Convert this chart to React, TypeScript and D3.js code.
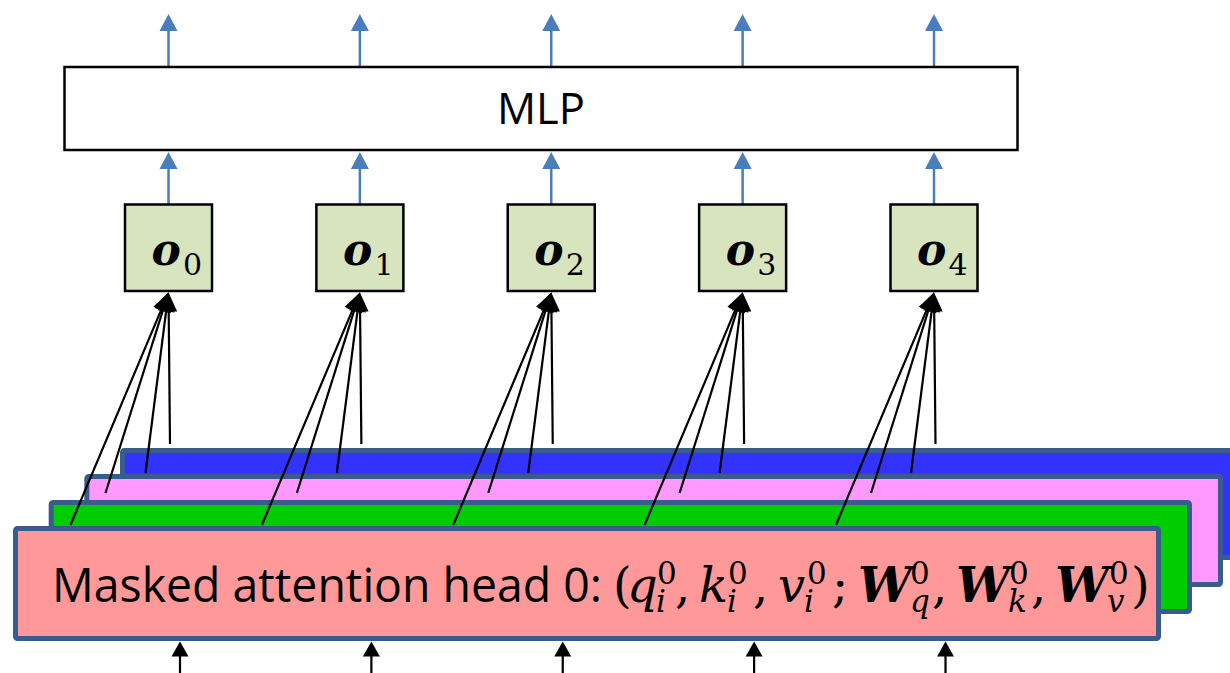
import React from "react";
import * as d3 from "d3";

// ---- data ----
const outputs = ["0", "1", "2", "3", "4"]; // subscripts of o_i
const heads = ["head 0", "head 1", "head 2", "head 3"]; // stacked attention heads (front to back)
const headFills = ["#ff9999", "#00cc00", "#ff99ff", "#3333ff"];
const mlpLabel = "MLP";
const headLabel = "Masked attention head 0:";
// math part of the label: [text, role, style]
const mathTokens: [string, string, string][] = [
  ["(", "main", "normal"],
  ["q", "main", "italic"],
  ["0", "sup", "normal"],
  ["i", "sub", "italic"],
  [",", "main", "normal"],
  ["k", "main", "italic"],
  ["0", "sup", "normal"],
  ["i", "sub", "italic"],
  [",", "main", "normal"],
  ["v", "main", "italic"],
  ["0", "sup", "normal"],
  ["i", "sub", "italic"],
  [";", "main", "normal"],
  ["W", "main", "bolditalic"],
  ["0", "sup", "normal"],
  ["q", "sub", "italic"],
  [",", "main", "normal"],
  ["W", "main", "bolditalic"],
  ["0", "sup", "normal"],
  ["k", "sub", "italic"],
  [",", "main", "normal"],
  ["W", "main", "bolditalic"],
  ["0", "sup", "normal"],
  ["v", "sub", "italic"],
  [")", "main", "normal"],
];

// ---- layout ----
const W = 1230;
const H = 673;
const mathX = [613, 627, 657, 656, 675, 699, 728, 727, 753, 778, 807, 804, 832, 858, 910, 910, 932, 956, 1009, 1008, 1031, 1055, 1109, 1107, 1131];

const x = d3.scalePoint<string>().domain(outputs).range([168.5, 934]).padding(0);
const layerIdx = d3.scaleLinear().domain([0, 3]);
const layerLeft = layerIdx.copy().range([13, 120]);
const layerTop = layerIdx.copy().range([526, 448]);
const layerRight = layerIdx.copy().range([1161, 1254]);
const layerBottom = layerIdx.copy().range([641, 560]);

// where each head's line leaves the stack (relative to output centre)
const lineDx = [-98, -63, -23, 1.5];
const lineY = [525, 493, 473, 444];

function arrow(x1: number, y1: number, tx: number, ty: number, len: number, w: number) {
  const dx = tx - x1, dy = ty - y1;
  const d = Math.hypot(dx, dy);
  const ux = dx / d, uy = dy / d;
  const bx = tx - ux * len, by = ty - uy * len;
  const px = -uy * (w / 2), py = ux * (w / 2);
  return {
    line: [x1, y1, bx + ux * 1, by + uy * 1],
    head: `${tx},${ty} ${bx + px},${by + py} ${bx - px},${by - py}`,
  };
}

const BLUE = "#4a7ebb";
const BORDER = "#385d8a";
const SERIF = "'DejaVu Serif', 'Liberation Serif', serif";
const SANS = "'Open Sans', 'Noto Sans', sans-serif";

export default function App() {
  const outs = outputs.map((o) => ({ o, cx: x(o)! }));
  return (
    <svg width={W} height={H} style={{ position: "absolute", left: 0, top: 0, background: "#fff" }}>
      {/* blue arrows above MLP and between o and MLP */}
      {outs.map(({ o, cx }) => {
        const a1 = arrow(cx, 66, cx, 14, 17, 18);
        const a2 = arrow(cx, 204, cx, 152, 17, 18);
        return (
          <g key={"b" + o}>
            {[a1, a2].map((a, k) => (
              <g key={k}>
                <line x1={a.line[0]} y1={a.line[1]} x2={a.line[2]} y2={a.line[3]} stroke={BLUE} strokeWidth={2.5} />
                <polygon points={a.head} fill={BLUE} />
              </g>
            ))}
          </g>
        );
      })}

      {/* MLP box */}
      <rect x={64.5} y={67} width={953} height={83} fill="#fff" stroke="#000" strokeWidth={2.5} />
      <text x={541} y={124} textAnchor="middle" fontFamily={SANS} fontSize={44} fill="#000" textLength={88} lengthAdjust="spacingAndGlyphs">
        {mlpLabel}
      </text>

      {/* o boxes */}
      {outs.map(({ o, cx }) => (
        <g key={"o" + o}>
          <rect x={cx - 43.5} y={204.5} width={87} height={86.5} fill="#d7e4bd" stroke="#000" strokeWidth={2.5} />
          <text x={cx - 17} y={265} fontFamily={SERIF} fontWeight="bold" fontStyle="italic" fontSize={44} fill="#000">o</text>
          <text x={cx + 14.5} y={275} fontFamily={SERIF} fontSize={30} fill="#000">{o}</text>
        </g>
      ))}

      {/* stacked attention heads, back to front */}
      {heads
        .map((h, i) => ({ h, i }))
        .reverse()
        .map(({ h, i }) => {
          const L = layerLeft(i), T = layerTop(i), R = layerRight(i), B = layerBottom(i);
          return (
            <rect key={h} x={L + 2.5} y={T + 2.5} width={R - L - 5} height={B - T - 5} rx={2}
              fill={headFills[i]} stroke={BORDER} strokeWidth={5} strokeLinejoin="round" />
          );
        })}

      {/* black lines from heads to o boxes */}
      {outs.map(({ o, cx }) => (
        <g key={"l" + o}>
          {heads.map((h, j) => {
            const a = arrow(cx + lineDx[j], lineY[j], cx, 292.5, 19, 17);
            return (
              <g key={h}>
                <line x1={a.line[0]} y1={a.line[1]} x2={a.line[2]} y2={a.line[3]} stroke="#000" strokeWidth={2.2} />
                <polygon points={a.head} fill="#000" />
              </g>
            );
          })}
        </g>
      ))}

      {/* label */}
      <text x={52} y={602} fontFamily={SANS} fontSize={48} fill="#000" textLength={550} lengthAdjust="spacingAndGlyphs">
        {headLabel}
      </text>
      {mathTokens.map(([t, role, style], k) => (
        <text key={k} x={mathX[k]} y={role === "main" ? 602 : role === "sup" ? 584 : 612}
          fontFamily={SERIF} fontSize={role === "main" ? 48 : 31}
          fontStyle={style === "normal" ? "normal" : "italic"}
          fontWeight={style === "bolditalic" ? "bold" : "normal"} fill="#000">
          {t}
        </text>
      ))}

      {/* input arrows at the bottom */}
      {outs.map(({ o, cx }) => {
        const a = arrow(cx + 11.5, 680, cx + 11.5, 641.5, 15, 17);
        return (
          <g key={"in" + o}>
            <line x1={a.line[0]} y1={a.line[1]} x2={a.line[2]} y2={a.line[3]} stroke="#000" strokeWidth={2.2} />
            <polygon points={a.head} fill="#000" />
          </g>
        );
      })}
    </svg>
  );
}
